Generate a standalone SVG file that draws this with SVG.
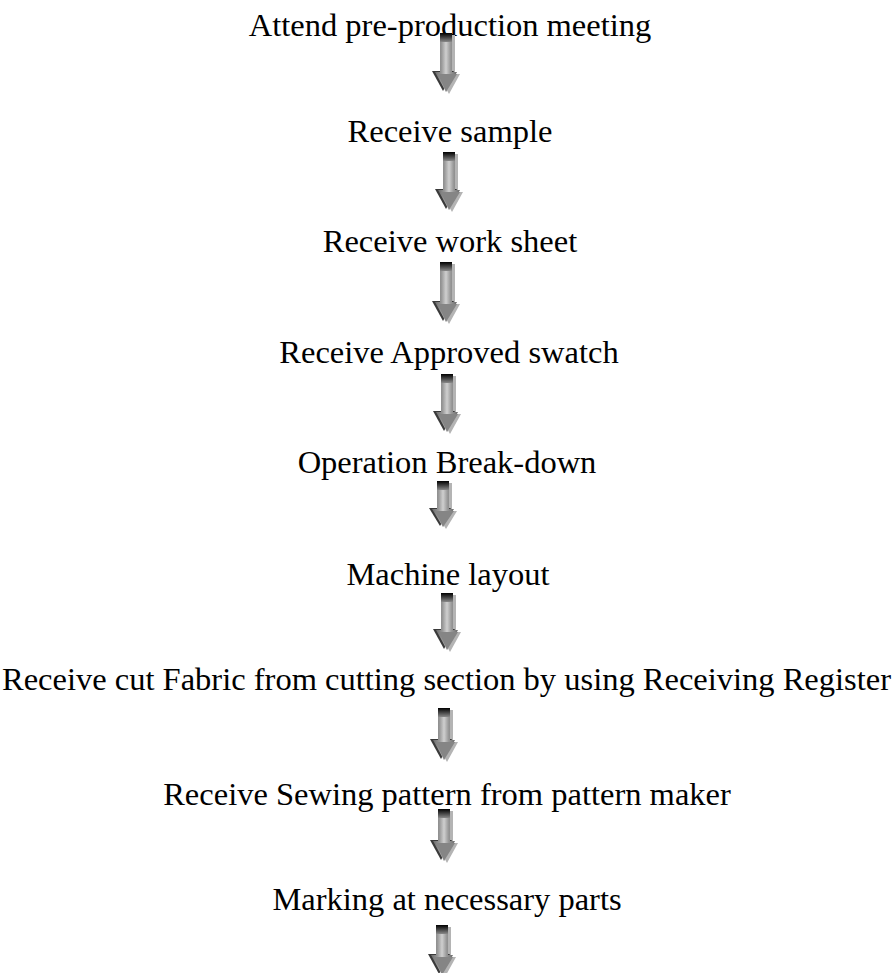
<svg xmlns="http://www.w3.org/2000/svg" width="893" height="973" viewBox="0 0 893 973">
<defs>
<linearGradient id="shaft" x1="0" y1="0" x2="1" y2="0">
<stop offset="0" stop-color="#6a6a6a"/>
<stop offset="0.3" stop-color="#999999"/>
<stop offset="0.5" stop-color="#cfcfcf"/>
<stop offset="0.7" stop-color="#999999"/>
<stop offset="1" stop-color="#6a6a6a"/>
</linearGradient>
<linearGradient id="cap" x1="0" y1="0" x2="0" y2="1">
<stop offset="0" stop-color="#000000"/>
<stop offset="0.5" stop-color="#444444"/>
<stop offset="1" stop-color="#8a8a8a"/>
</linearGradient>
</defs>
<style>
text{font-family:"Liberation Serif","Times New Roman",serif;font-size:32.5px;fill:#000;text-anchor:middle}
.sh{fill:#b4b4b4}
.dk{fill:#3a3a3a}
.mn{fill:url(#shaft)}
.hd{fill:#858585}
.cp{fill:url(#cap)}
</style>
<g id="nodes">
<g id="n1"><text x="450" y="36">Attend pre-production meeting</text></g>
<g id="n2"><text x="450" y="142">Receive sample</text></g>
<g id="n3"><text x="450" y="252">Receive work sheet</text></g>
<g id="n4"><text x="449" y="363">Receive Approved swatch</text></g>
<g id="n5"><text x="447" y="473">Operation Break-down</text></g>
<g id="n6"><text x="448" y="585">Machine layout</text></g>
<g id="n7"><text x="446.5" y="690">Receive cut Fabric from cutting section by using Receiving Register</text></g>
<g id="n8"><text x="447" y="805">Receive Sewing pattern from pattern maker</text></g>
<g id="n9"><text x="447" y="910">Marking at necessary parts</text></g>
</g>
<g id="connectors">
<g id="a1" transform="translate(446,33)">
<path class="sh" d="M-3,2 H9 V41 H14 L3,61 L-8,41 H-3 Z"/>
<path class="dk" d="M-14,38 H8 L-3,58 Z"/>
<path class="mn" d="M-6,0 H6 V39 H11 L0,59 L-11,39 H-6 Z"/>
<path class="hd" d="M-8,41 H11 L0,59 Z"/>
<rect class="cp" x="-6" y="0" width="12" height="9"/>
</g>
<g id="a2" transform="translate(449,152)">
<path class="sh" d="M-3,2 H9 V40 H14 L3,60 L-8,40 H-3 Z"/>
<path class="dk" d="M-14,37 H8 L-3,57 Z"/>
<path class="mn" d="M-6,0 H6 V38 H11 L0,58 L-11,38 H-6 Z"/>
<path class="hd" d="M-8,40 H11 L0,58 Z"/>
<rect class="cp" x="-6" y="0" width="12" height="9"/>
</g>
<g id="a3" transform="translate(446,262)">
<path class="sh" d="M-3,2 H9 V42 H14 L3,62 L-8,42 H-3 Z"/>
<path class="dk" d="M-14,39 H8 L-3,59 Z"/>
<path class="mn" d="M-6,0 H6 V40 H11 L0,60 L-11,40 H-6 Z"/>
<path class="hd" d="M-8,42 H11 L0,60 Z"/>
<rect class="cp" x="-6" y="0" width="12" height="9"/>
</g>
<g id="a4" transform="translate(447,374)">
<path class="sh" d="M-3,2 H9 V40 H14 L3,60 L-8,40 H-3 Z"/>
<path class="dk" d="M-14,37 H8 L-3,57 Z"/>
<path class="mn" d="M-6,0 H6 V38 H11 L0,58 L-11,38 H-6 Z"/>
<path class="hd" d="M-8,40 H11 L0,58 Z"/>
<rect class="cp" x="-6" y="0" width="12" height="9"/>
</g>
<g id="a5" transform="translate(443,481)">
<path class="sh" d="M-3,2 H9 V30 H14 L3,48 L-8,30 H-3 Z"/>
<path class="dk" d="M-14,27 H8 L-3,45 Z"/>
<path class="mn" d="M-6,0 H6 V28 H11 L0,46 L-11,28 H-6 Z"/>
<path class="hd" d="M-8,30 H11 L0,46 Z"/>
<rect class="cp" x="-6" y="0" width="12" height="9"/>
</g>
<g id="a6" transform="translate(447,593)">
<path class="sh" d="M-3,2 H9 V39 H14 L3,59 L-8,39 H-3 Z"/>
<path class="dk" d="M-14,36 H8 L-3,56 Z"/>
<path class="mn" d="M-6,0 H6 V37 H11 L0,57 L-11,37 H-6 Z"/>
<path class="hd" d="M-8,39 H11 L0,57 Z"/>
<rect class="cp" x="-6" y="0" width="12" height="9"/>
</g>
<g id="a7" transform="translate(444,708)">
<path class="sh" d="M-3,2 H9 V34 H14 L3,54 L-8,34 H-3 Z"/>
<path class="dk" d="M-14,31 H8 L-3,51 Z"/>
<path class="mn" d="M-6,0 H6 V32 H11 L0,52 L-11,32 H-6 Z"/>
<path class="hd" d="M-8,34 H11 L0,52 Z"/>
<rect class="cp" x="-6" y="0" width="12" height="9"/>
</g>
<g id="a8" transform="translate(444,809)">
<path class="sh" d="M-3,2 H9 V34 H14 L3,54 L-8,34 H-3 Z"/>
<path class="dk" d="M-14,31 H8 L-3,51 Z"/>
<path class="mn" d="M-6,0 H6 V32 H11 L0,52 L-11,32 H-6 Z"/>
<path class="hd" d="M-8,34 H11 L0,52 Z"/>
<rect class="cp" x="-6" y="0" width="12" height="9"/>
</g>
<g id="a9" transform="translate(442,925)">
<path class="sh" d="M-3,2 H9 V32 H14 L3,52 L-8,32 H-3 Z"/>
<path class="dk" d="M-14,29 H8 L-3,49 Z"/>
<path class="mn" d="M-6,0 H6 V30 H11 L0,50 L-11,30 H-6 Z"/>
<path class="hd" d="M-8,32 H11 L0,50 Z"/>
<rect class="cp" x="-6" y="0" width="12" height="9"/>
</g>
</g>
</svg>
